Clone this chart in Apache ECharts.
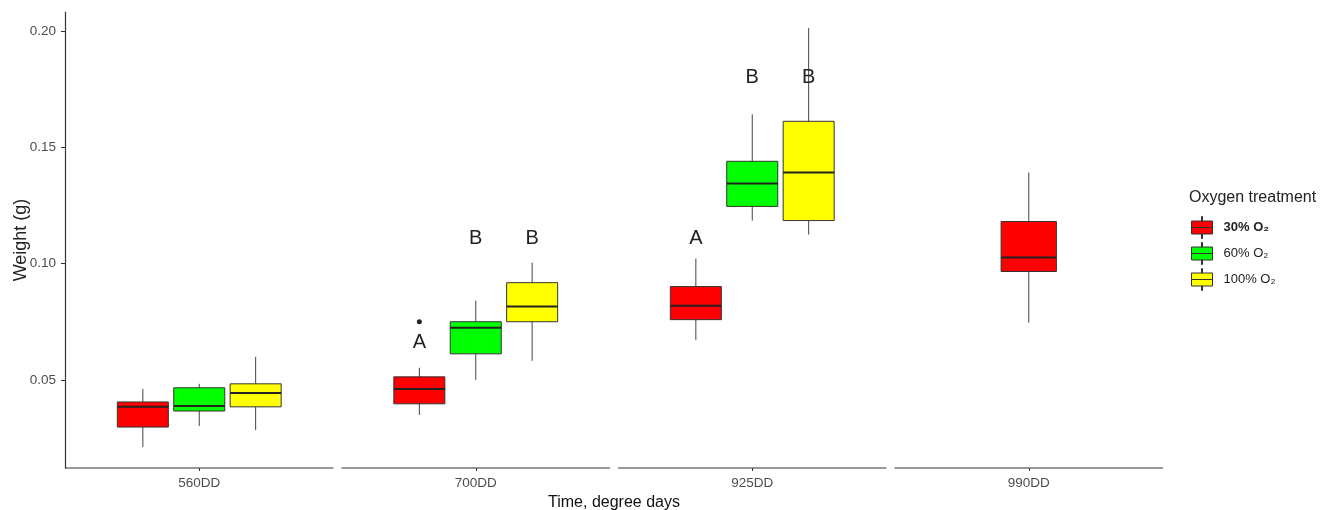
<!DOCTYPE html>
<html>
<head>
<meta charset="utf-8">
<script src="https://cdn.jsdelivr.net/npm/echarts@6/dist/echarts.min.js"></script>
<style>
  html, body { margin: 0; padding: 0; background: #fff; }
  #main { width: 1332px; height: 510px; }
</style>
</head>
<body>
<div id="main"></div>
<script>
var chartDom = document.getElementById('main')
var myChart = echarts.init(chartDom)
var option

const categories = ['560DD', '700DD', '925DD', '990DD']
const treatments = ['30% O₂', '60% O₂', '100% O₂']
const colors = ['#ff0000', '#00ff00', '#ffff00']

// [min, Q1, median, Q3, max] per category, null = not measured
const o2_30 = [
  [0.0211, 0.0297, 0.0384, 0.0405, 0.0461],
  [0.0349, 0.0397, 0.0461, 0.0513, 0.0552],
  [0.0672, 0.0759, 0.0819, 0.0901, 0.1022],
  [0.0746, 0.0966, 0.1026, 0.1181, 0.1392]
]
const o2_60 = [
  [0.0302, 0.0366, 0.0388, 0.0466, 0.0483],
  [0.0500, 0.0612, 0.0724, 0.0750, 0.0841],
  [0.1185, 0.1246, 0.1345, 0.1440, 0.1642],
  null
]
const o2_100 = [
  [0.0284, 0.0384, 0.0444, 0.0483, 0.0599],
  [0.0582, 0.0750, 0.0815, 0.0918, 0.1004],
  [0.1125, 0.1185, 0.1392, 0.1612, 0.2013],
  null
]
const boxes = [o2_30, o2_60, o2_100]

// outliers: [category, treatment index, value]
const outliers = [['700DD', 0, 0.075]]
// significance letters: [category, treatment index, letter, y value]
const letters = [
  ['700DD', 0, 'A', 0.0659],
  ['700DD', 1, 'B', 0.111],
  ['700DD', 2, 'B', 0.111],
  ['925DD', 0, 'A', 0.111],
  ['925DD', 1, 'B', 0.1802],
  ['925DD', 2, 'B', 0.1802]
]

const yTicks = [0.05, 0.1, 0.15, 0.2]

// position of a treatment inside its category (dodge only among present groups)
function slotOf(ci, ti) {
  const present = [0, 1, 2].filter(t => boxes[t][ci])
  return [present.indexOf(ti), present.length]
}
function dodgeX(api, ci, slot, n) {
  const band = api.size([1, 0])[0]
  const cx = api.coord([ci, 0.1])[0]
  return cx + (slot - (n - 1) / 2) * band * 0.204
}

const boxSeries = treatments.map((name, ti) => ({
  name: name,
  type: 'custom',
  itemStyle: { color: colors[ti], borderColor: '#333', borderWidth: 1 },
  encode: { x: 0, y: [1, 2, 3, 4, 5] },
  data: boxes[ti]
    .map((b, ci) => b ? [ci].concat(b, slotOf(ci, ti)) : null)
    .filter(d => d),
  renderItem: function (params, api) {
    const ci = api.value(0)
    const n = api.value(7)
    const x = dodgeX(api, ci, api.value(6), n)
    // a lone box is drawn a little wider, as in the original
    const w = api.size([1, 0])[0] * (n === 1 ? 0.2 : 0.1845)
    const y = k => api.coord([ci, api.value(k)])[1]
    const yMin = y(1), yQ1 = y(2), yMed = y(3), yQ3 = y(4), yMax = y(5)
    return {
      type: 'group',
      children: [
        { type: 'line', shape: { x1: x, y1: yMax, x2: x, y2: yQ3 }, style: { stroke: '#444', lineWidth: 1 } },
        { type: 'line', shape: { x1: x, y1: yQ1, x2: x, y2: yMin }, style: { stroke: '#444', lineWidth: 1 } },
        { type: 'rect', shape: { x: x - w / 2, y: yQ3, width: w, height: yQ1 - yQ3 },
          style: { fill: colors[ti], stroke: '#333', lineWidth: 1 } },
        { type: 'line', shape: { x1: x - w / 2, y1: yMed, x2: x + w / 2, y2: yMed },
          style: { stroke: '#222', lineWidth: 2 } }
      ]
    }
  }
}))

option = {
  animation: false,
  textStyle: { fontFamily: 'Liberation Sans, Arial, sans-serif' },
  title: {
    text: 'Oxygen treatment',
    left: 1189,
    top: 190,
    padding: 0,
    textStyle: { fontSize: 16, fontWeight: 'normal', color: '#222' }
  },
  legend: {
    orient: 'vertical',
    left: 1191,
    top: 216,
    padding: 0,
    itemWidth: 21,
    itemHeight: 22,
    itemGap: 3,
    selectedMode: false,
    icon: 'path://M0,4.5H21V11H0Z M0,11H21V17.5H0Z M10,0H11V4.5H10Z M10,17.5H11V22H10Z',
    data: treatments.map((name, ti) => ({
      name: name,
      itemStyle: { color: colors[ti], borderColor: '#333', borderWidth: 1 }
    })),
    formatter: name => name.indexOf('30') === 0 ? '{b|' + name + '}' : name,
    textStyle: {
      fontSize: 13,
      color: '#222',
      padding: [0, 0, 0, 6],
      rich: { b: { fontSize: 13, fontWeight: 'bold', color: '#222' } }
    }
  },
  grid: { left: 61, right: 165, top: 12, bottom: 42, containLabel: false, outerBoundsMode: 'none' },
  xAxis: {
    type: 'category',
    data: categories,
    axisLine: { show: false },
    axisTick: { show: true, alignWithLabel: true, length: 3, lineStyle: { color: '#333' } },
    axisLabel: { color: '#4d4d4d', fontSize: 13.5, margin: 8 },
    name: 'Time, degree days',
    nameLocation: 'middle',
    nameGap: 25,
    nameTextStyle: { fontSize: 16, fontWeight: 'normal', color: '#111' }
  },
  yAxis: {
    type: 'value',
    min: 0.0121,
    max: 0.2082,
    offset: -4,
    axisLine: { show: true, lineStyle: { color: '#333', width: 1.2 } },
    axisTick: { show: true, length: 4, customValues: yTicks, lineStyle: { color: '#333' } },
    axisLabel: {
      customValues: yTicks,
      formatter: v => v.toFixed(2),
      color: '#4d4d4d',
      fontSize: 13.5,
      margin: 9
    },
    splitLine: { show: false },
    name: 'Weight (g)',
    nameLocation: 'middle',
    nameMoveOverlap: false,
    nameGap: 35,
    nameTextStyle: { fontSize: 18, color: '#222' }
  },
  series: boxSeries.concat([
    {
      // broken x axis line, one segment per category
      type: 'custom',
      silent: true,
      encode: { x: 0, y: 1 },
      data: categories.map((c, i) => [i, 0.1]),
      renderItem: function (params, api) {
        const ci = api.value(0)
        const band = api.size([1, 0])[0]
        const cx = api.coord([ci, 0.1])[0]
        const yb = params.coordSys.y + params.coordSys.height
        return {
          type: 'line',
          shape: { x1: cx - band / 2 + 4, y1: yb, x2: cx + band / 2 - 4, y2: yb },
          style: { stroke: '#333', lineWidth: 1.2 }
        }
      }
    },
    {
      type: 'custom',
      silent: true,
      encode: { x: 0, y: 1 },
      data: outliers.map(o => {
        const ci = categories.indexOf(o[0])
        return [ci, o[2]].concat(slotOf(ci, o[1]))
      }),
      renderItem: function (params, api) {
        const ci = api.value(0)
        const x = dodgeX(api, ci, api.value(2), api.value(3))
        const y = api.coord([ci, api.value(1)])[1]
        return { type: 'circle', shape: { cx: x, cy: y, r: 2.5 }, style: { fill: '#222' } }
      }
    },
    {
      type: 'custom',
      silent: true,
      encode: { x: 0, y: 1 },
      data: letters.map(l => {
        const ci = categories.indexOf(l[0])
        return [ci, l[3]].concat(slotOf(ci, l[1]), [l[2]])
      }),
      renderItem: function (params, api) {
        const ci = api.value(0)
        const x = dodgeX(api, ci, api.value(2), api.value(3))
        const y = api.coord([ci, api.value(1)])[1]
        return {
          type: 'text',
          x: x,
          y: y,
          style: {
            text: letters[params.dataIndex][2],
            fill: '#222',
            font: '20px Liberation Sans, Arial, sans-serif',
            align: 'center',
            verticalAlign: 'middle'
          }
        }
      }
    }
  ])
}

option && myChart.setOption(option)
</script>
</body>
</html>
